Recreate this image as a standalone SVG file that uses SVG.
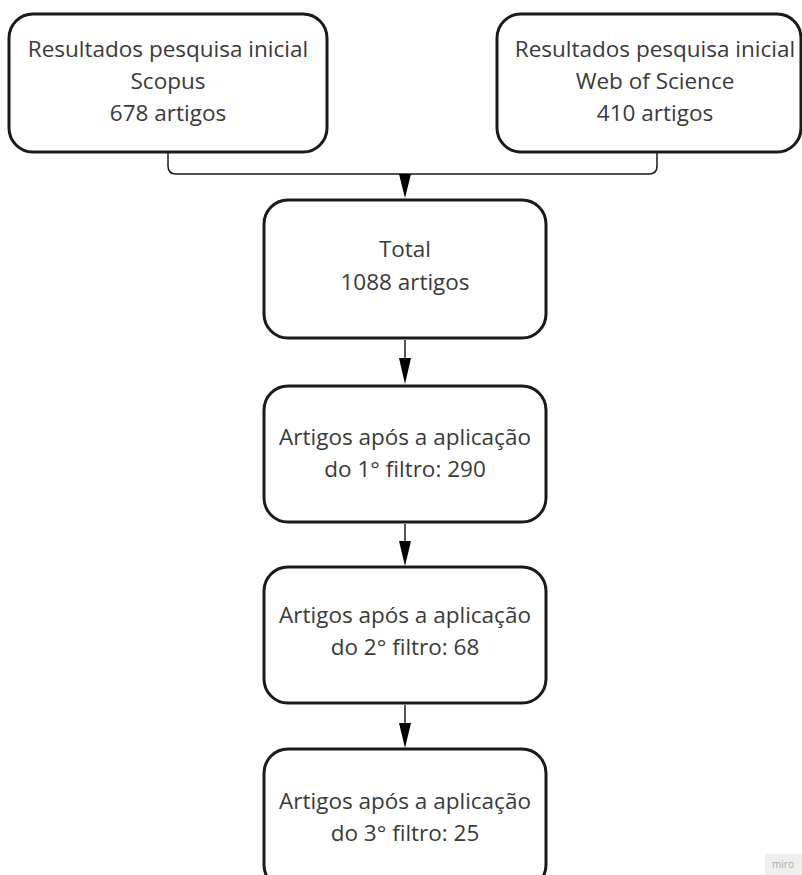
<svg xmlns="http://www.w3.org/2000/svg" width="802" height="875" viewBox="0 0 802 875">
<defs>
<style>
.box{fill:#ffffff;stroke:#1a1a1a;stroke-width:3}
.lbl{font-family:"Open Sans","Liberation Sans",sans-serif;font-size:22.5px;fill:#3a3a3a;text-anchor:middle}
.conn{fill:none;stroke:#1a1a1a;stroke-width:1.5}
.head{fill:#000000}
</style>
</defs>
<rect width="802" height="875" fill="#ffffff"/>
<g id="connectors">
<path class="conn" d="M168 153 V166 Q168 174 176 174 H649 Q657 174 657 166 V153"/>
<polygon class="head" points="399,174 411,174 405,198"/>
<line class="conn" x1="405" y1="340" x2="405" y2="360"/>
<polygon class="head" points="399,358 411,358 405,384"/>
<line class="conn" x1="405" y1="524" x2="405" y2="543"/>
<polygon class="head" points="399,541 411,541 405,566"/>
<line class="conn" x1="405" y1="705" x2="405" y2="725"/>
<polygon class="head" points="399,723 411,723 405,748"/>
</g>
<g id="scopus">
<rect class="box" x="9" y="14" width="318" height="138" rx="24"/>
<text class="lbl" x="168" y="57">Resultados pesquisa inicial</text>
<text class="lbl" x="168" y="89">Scopus</text>
<text class="lbl" x="168" y="121">678 artigos</text>
</g>
<g id="wos">
<rect class="box" x="497" y="14" width="304" height="138" rx="24"/>
<text class="lbl" x="655" y="57">Resultados pesquisa inicial</text>
<text class="lbl" x="655" y="89">Web of Science</text>
<text class="lbl" x="655" y="121">410 artigos</text>
</g>
<g id="total">
<rect class="box" x="264" y="200" width="282" height="138" rx="24"/>
<text class="lbl" x="405" y="257">Total</text>
<text class="lbl" x="405" y="290">1088 artigos</text>
</g>
<g id="filtro1">
<rect class="box" x="264" y="386" width="282" height="136" rx="24"/>
<text class="lbl" x="405" y="445">Artigos após a aplicação</text>
<text class="lbl" x="405" y="477">do 1° filtro: 290</text>
</g>
<g id="filtro2">
<rect class="box" x="264" y="567" width="282" height="136" rx="24"/>
<text class="lbl" x="405" y="623">Artigos após a aplicação</text>
<text class="lbl" x="405" y="655">do 2° filtro: 68</text>
</g>
<g id="filtro3">
<rect class="box" x="264" y="749" width="282" height="140" rx="24"/>
<text class="lbl" x="405" y="809">Artigos após a aplicação</text>
<text class="lbl" x="405" y="841">do 3° filtro: 25</text>
</g>
<g id="miro">
<rect x="765" y="854" width="37" height="21" fill="#eeeeee"/>
<text x="783" y="868" font-family="'Open Sans','Liberation Sans',sans-serif" font-size="10" fill="#aaaaaa" text-anchor="middle">miro</text>
</g>
</svg>
